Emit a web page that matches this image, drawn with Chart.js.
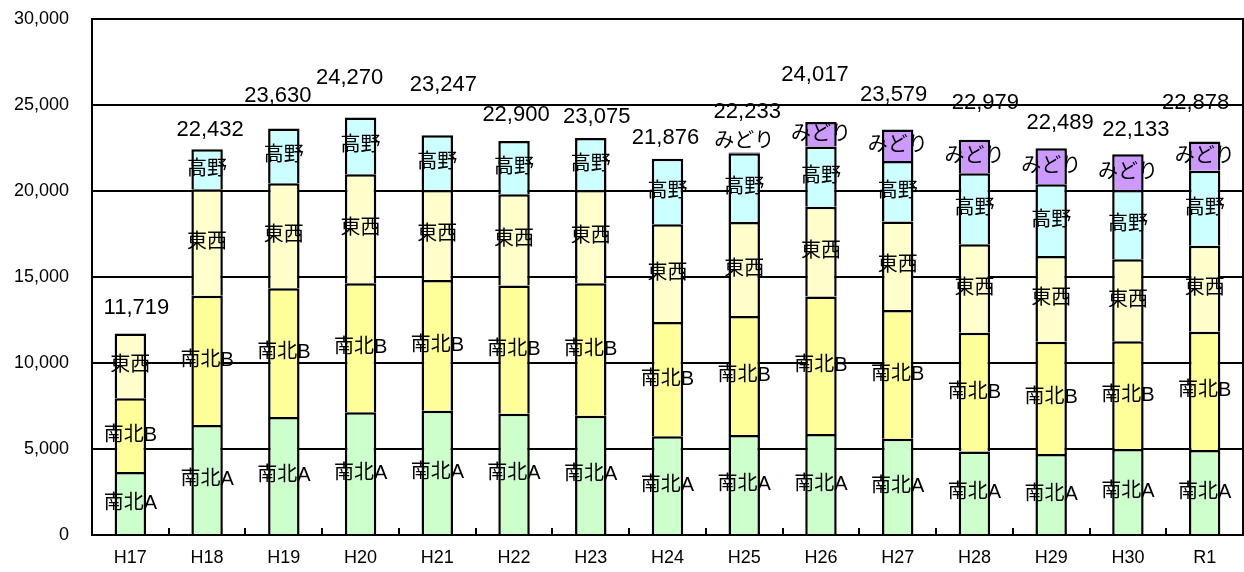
<!DOCTYPE html>
<html>
<head>
<meta charset="utf-8">
<script src="https://cdn.jsdelivr.net/npm/chart.js@4/dist/chart.umd.min.js"></script>
<style>
  html, body { margin: 0; padding: 0; background: #fff; }
  #wrap { width: 1244px; height: 572px; }
</style>
</head>
<body>
<div id="wrap"><canvas id="chart" width="1244" height="572"></canvas></div>
<script>
// データ
const categories = ['H17', 'H18', 'H19', 'H20', 'H21', 'H22', 'H23', 'H24', 'H25', 'H26', 'H27', 'H28', 'H29', 'H30', 'R1'];
const nanbokuA = [3660, 6400, 6860, 7130, 7230, 7050, 6940, 5740, 5810, 5870, 5600, 4850, 4710, 5000, 4940];
const nanbokuB = [4290, 7510, 7480, 7510, 7600, 7450, 7690, 6640, 6920, 7990, 7480, 6910, 6530, 6260, 6880];
const touzai = [3769, 6190, 6110, 6330, 5230, 5310, 5430, 5680, 5470, 5230, 5140, 5140, 4980, 4770, 5000];
const kouya = [null, 2332, 3180, 3300, 3187, 3090, 3015, 3816, 3990, 3490, 3530, 4130, 4170, 4030, 4360];
const midori = [null, null, null, null, null, null, null, null, 43, 1437, 1829, 1949, 2099, 2073, 1698];
const totals = [11719, 22432, 23630, 24270, 23247, 22900, 23075, 21876, 22233, 24017, 23579, 22979, 22489, 22133, 22878];

// 合計ラベルの位置調整 (px)
const totalLift = [25, 19, 33, 40, 50, 26, 21, 21, 41, 47, 35, 37, 25, 24, 39];
const totalShift = [6, 3, -6, -11, 6, 2, 6, -2, 3, -6, -4, 11, 9, 8, -9];

const jpFont = '"Liberation Sans", "Noto Sans CJK JP", sans-serif';

// 枠線と目盛り
const framePlugin = {
    id: 'frame',
    afterDraw(chart) {
        const { ctx, chartArea: a } = chart;
        const x = chart.scales.x;
        ctx.save();
        ctx.strokeStyle = '#000';
        ctx.lineWidth = 2;
        ctx.strokeRect(a.left, a.top, a.right - a.left, a.bottom - a.top);
        ctx.beginPath();
        for (let i = 0; i < categories.length - 1; i++) {
            const px = Math.round((x.getPixelForValue(i) + x.getPixelForValue(i + 1)) / 2);
            ctx.moveTo(px, a.bottom);
            ctx.lineTo(px, a.bottom - 7);
        }
        ctx.stroke();
        ctx.restore();
    }
};

// 系列名と合計のラベル
const labelPlugin = {
    id: 'labels',
    afterDatasetsDraw(chart) {
        const { ctx } = chart;
        ctx.save();
        ctx.fillStyle = '#000';
        ctx.textAlign = 'center';
        ctx.textBaseline = 'middle';
        ctx.font = '20px ' + jpFont;
        chart.data.datasets.forEach((ds, d) => {
            const meta = chart.getDatasetMeta(d);
            meta.data.forEach((el, i) => {
                if (ds.data[i] == null) return;
                const p = el.getProps(['x', 'y', 'base'], true);
                let cy = (p.y + p.base) / 2;
                if (Math.abs(p.base - p.y) < 10) cy = p.y - 11;
                ctx.fillText(ds.label, p.x, cy);
            });
        });
        ctx.font = '22px ' + jpFont;
        const xs = chart.scales.x, ys = chart.scales.y;
        totals.forEach((t, i) => {
            ctx.fillText(t.toLocaleString('en-US'), xs.getPixelForValue(i) + totalShift[i], ys.getPixelForValue(t) - totalLift[i]);
        });
        ctx.restore();
    }
};

function makeSet(label, data, color) {
    return {
        label: label,
        data: data,
        backgroundColor: color,
        borderColor: '#000',
        borderWidth: 2.5,
        borderSkipped: 'start',
        categoryPercentage: 1.0,
        barPercentage: 0.41
    };
}

new Chart(document.getElementById('chart').getContext('2d'), {
    type: 'bar',
    data: {
        labels: categories,
        datasets: [
            makeSet('南北A', nanbokuA, '#CCFFCC'),
            makeSet('南北B', nanbokuB, '#FFFF99'),
            makeSet('東西', touzai, '#FFFFCC'),
            makeSet('高野', kouya, '#CCFFFF'),
            makeSet('みどり', midori, '#CC99FF')
        ]
    },
    options: {
        responsive: false,
        animation: false,
        layout: { padding: { top: 19, right: 1, left: 0, bottom: 0 } },
        plugins: {
            legend: { display: false },
            tooltip: { enabled: false }
        },
        scales: {
            x: {
                stacked: true,
                grid: { display: false, drawTicks: false },
                border: { color: '#000', width: 2 },
                ticks: { color: '#000', padding: 12, font: { size: 18, family: jpFont } },
                afterFit(s) { s.height = 37; s.paddingLeft = 0; s.paddingRight = 0; }
            },
            y: {
                stacked: true,
                min: 0,
                max: 30000,
                grid: { color: '#000', lineWidth: 2, drawTicks: false },
                border: { color: '#000', width: 2 },
                ticks: {
                    stepSize: 5000,
                    color: '#000',
                    padding: 23,
                    font: { size: 18, family: jpFont },
                    callback: v => v.toLocaleString('en-US')
                },
                afterFit(s) { s.width = 92; s.paddingTop = 0; s.paddingBottom = 0; }
            }
        }
    },
    plugins: [framePlugin, labelPlugin]
});
</script>
</body>
</html>
